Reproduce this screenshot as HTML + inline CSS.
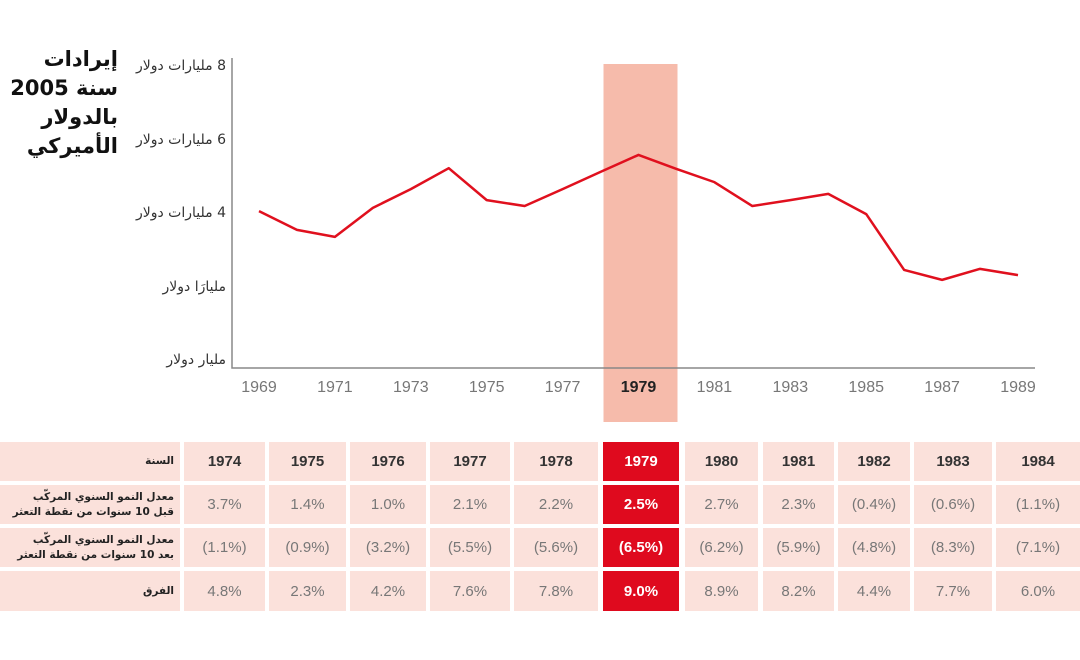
<!DOCTYPE html>
<html><head><meta charset="utf-8">
<style>
body{margin:0;width:1080px;height:660px;background:#fff;position:relative;overflow:hidden;font-family:"Liberation Sans","Noto Sans CJK SC",sans-serif}
.c{position:absolute;background:#fbe1db;color:#777;font-size:15px;display:flex;align-items:center;justify-content:center}
.h{color:#333;font-weight:bold}
.r{background:#df0a1e;color:#fff;font-weight:bold}
.l{padding-right:6px;box-sizing:border-box;text-align:right;color:#222;font-weight:bold;font-size:10.5px;line-height:15px;white-space:nowrap;font-family:"DejaVu Sans",sans-serif;letter-spacing:-0.5px}
.yl{position:absolute;right:854px;font-size:14px;color:#333;white-space:nowrap;font-family:"DejaVu Sans",sans-serif;letter-spacing:-0.4px}
</style></head><body>
<div style="position:absolute;left:10px;top:45px;width:108px;text-align:right;font:bold 21px/29px 'DejaVu Sans','Liberation Sans',sans-serif;color:#111;letter-spacing:-0.5px" dir="rtl">إيرادات<br>سنة 2005<br>بالدولار<br>الأميركي</div>
<svg id="chart" width="1080" height="430" style="position:absolute;left:0;top:0"></svg>
<div id="ylab"></div>
<div id="tbl"></div>
<script>
const years=[1969,1970,1971,1972,1973,1974,1975,1976,1977,1978,1979,1980,1981,1982,1983,1984,1985,1986,1987,1988,1989];
const revenue=[4.05,3.54,3.35,4.14,4.65,5.22,4.35,4.19,4.65,5.12,5.58,5.2,4.84,4.19,4.35,4.52,3.97,2.45,2.18,2.48,2.31];
const yTicks=[8,6,4,2,0];
const yTickLabels=["8 مليارات دولار","6 مليارات دولار","4 مليارات دولار","مليارَا دولار","مليار دولار"];
const xTicks=[1969,1971,1973,1975,1977,1979,1981,1983,1985,1987,1989];
const highlightYear=1979;
const NS="http://www.w3.org/2000/svg";
const svg=document.getElementById('chart');
const X=v=>259+(v-1969)*37.95;
const Y=v=>360-v*36.75;
function mk(t,a){const e=document.createElementNS(NS,t);for(const k in a)e.setAttribute(k,a[k]);svg.appendChild(e);return e;}
let b=mk('rect',{x:X(highlightYear)-35,y:64,width:74,height:358,fill:'#f6bbab'});


let ax=mk('path',{d:'M232 58V368H1035',stroke:'#888',fill:'none','stroke-width':1.5});


const yl=document.getElementById('ylab');
yTicks.forEach((v,i)=>{const d=document.createElement('div');d.className='yl';d.dir='rtl';d.style.top=(Y(v)-8)+'px';d.textContent=yTickLabels[i];


yl.appendChild(d);});
xTicks.forEach(v=>{const t=mk('text',{x:X(v),y:392,'text-anchor':'middle','font-size':16,fill:v===highlightYear?'#222':'#777','font-weight':v===highlightYear?'bold':'normal'});t.textContent=v;

});
let p=mk('polyline',{points:years.map((y,i)=>X(y)+','+Y(revenue[i])).join(' '),fill:'none',stroke:'#e0101e','stroke-width':2.5,'stroke-linejoin':'round'});



const tYears=["1974","1975","1976","1977","1978","1979","1980","1981","1982","1983","1984"];
const before=["3.7%","1.4%","1.0%","2.1%","2.2%","2.5%","2.7%","2.3%","(0.4%)","(0.6%)","(1.1%)"];
const after=["(1.1%)","(0.9%)","(3.2%)","(5.5%)","(5.6%)","(6.5%)","(6.2%)","(5.9%)","(4.8%)","(8.3%)","(7.1%)"];
const diff=["4.8%","2.3%","4.2%","7.6%","7.8%","9.0%","8.9%","8.2%","4.4%","7.7%","6.0%"];
const rowLabels=["السنة","معدل النمو السنوي المركّب<br>قبل 10 سنوات من نقطة التعثر","معدل النمو السنوي المركّب<br>بعد 10 سنوات من نقطة التعثر","الفرق"];
const colL=[184,269,350,430,514,603,685,763,838,914,996];
const colR=[265,346,426,510,598,679,758,834,910,992,1080];
const rowT=[442,485,528,571],rowB=[481,524,567,611];
const tbl=document.getElementById('tbl');
const rows=[tYears,before,after,diff];
rowLabels.forEach((lab,r)=>{
 const d=document.createElement('div');d.className='c l';d.dir='rtl';
 d.style.cssText+=`left:0;width:180px;top:${rowT[r]}px;height:${rowB[r]-rowT[r]}px;justify-content:flex-start`;
 d.innerHTML='<span>'+lab+'</span>';
 
 
 tbl.appendChild(d);
 rows[r].forEach((v,i)=>{
  const c=document.createElement('div');
  c.className='c'+(r===0?' h':'')+(tYears[i]==String(highlightYear)?' r':'');
  c.style.cssText+=`left:${colL[i]}px;width:${colR[i]-colL[i]}px;top:${rowT[r]}px;height:${rowB[r]-rowT[r]}px`;
  c.textContent=v;
  
  
  tbl.appendChild(c);
 });
});
</script>
</body></html>
